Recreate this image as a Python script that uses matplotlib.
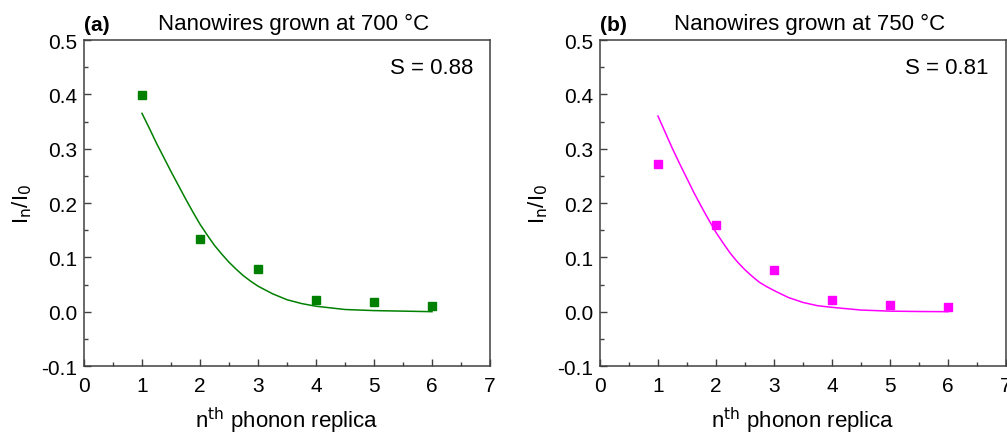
import matplotlib.pyplot as plt
from matplotlib.ticker import MultipleLocator

plt.rcParams['font.family'] = ['Liberation Sans', 'DejaVu Sans']

# measured points
n_vals = [1, 2, 3, 4, 5, 6]
ratio_700 = [0.399, 0.133, 0.079, 0.021, 0.018, 0.011]
ratio_750 = [0.271, 0.159, 0.077, 0.022, 0.013, 0.008]

# fit curves
fit_x = [1, 1.125, 1.25, 1.375, 1.5, 1.625, 1.75, 1.875, 2, 2.125, 2.25, 2.375, 2.5,
         2.625, 2.75, 2.875, 3, 3.25, 3.5, 3.75, 4, 4.5, 5, 5.5, 6]
fit_700 = [0.365, 0.338, 0.310, 0.284, 0.258, 0.233, 0.208, 0.184, 0.161, 0.141, 0.122,
           0.106, 0.091, 0.078, 0.066, 0.056, 0.047, 0.033, 0.022, 0.015, 0.010, 0.004,
           0.002, 0.001, 0.000]
fit_750 = [0.360, 0.330, 0.300, 0.272, 0.245, 0.218, 0.193, 0.169, 0.146, 0.126, 0.107,
           0.091, 0.077, 0.065, 0.054, 0.046, 0.039, 0.026, 0.017, 0.011, 0.008, 0.003,
           0.001, 0.0003, 0.000]

panels = ['(a)', '(b)']
titles = ['Nanowires grown at 700 °C', 'Nanowires grown at 750 °C']
s_labels = ['S = 0.88', 'S = 0.81']
colors = ['#008000', '#ff00ff']

fig = plt.figure(figsize=(10.07, 4.35), dpi=100)
ax_a = fig.add_axes([0.0834, 0.1563, 0.4032, 0.7494])
ax_b = fig.add_axes([0.5958, 0.1563, 0.4032, 0.7494])

data = [(ratio_700, fit_700), (ratio_750, fit_750)]
for i, ax in enumerate([ax_a, ax_b]):
    pts, fit = data[i]
    ax.plot(fit_x, fit, color=colors[i], lw=1.1)
    ax.plot(n_vals, pts, 's', color=colors[i], ms=5.5, mec=colors[i])

    ax.set_xlim(0, 7)
    ax.set_ylim(-0.1, 0.5)
    ax.xaxis.set_major_locator(MultipleLocator(1))
    ax.xaxis.set_minor_locator(MultipleLocator(0.5))
    ax.yaxis.set_major_locator(MultipleLocator(0.1))
    ax.yaxis.set_minor_locator(MultipleLocator(0.05))
    ax.set_yticklabels(['%.1f' % v for v in ax.get_yticks()])
    ax.tick_params(which='both', direction='in', colors='#404040', labelcolor='black',
                   labelsize=15, width=1)
    ax.tick_params(axis='y', which='major', length=5, pad=5)
    ax.tick_params(axis='x', which='major', length=5, pad=7)
    ax.tick_params(which='minor', length=3)
    for sp in ax.spines.values():
        sp.set_color('#404040')
        sp.set_linewidth(1.1)

    ax.set_xlabel('n$^{\\mathrm{th}}$ phonon replica', fontsize=16, labelpad=7)
    ax.set_ylabel('I$_\\mathrm{n}$/I$_0$', fontsize=16, labelpad=5)
    ax.text(0.958, 0.915, s_labels[i], transform=ax.transAxes, ha='right', va='center',
            fontsize=16)
    ax.text(0.0, 1.02, panels[i], transform=ax.transAxes, ha='left', va='bottom',
            fontsize=15, fontweight='bold')
    ax.text(0.515, 1.02, titles[i], transform=ax.transAxes, ha='center', va='bottom',
            fontsize=16)

fig.savefig('out.png', dpi=100)
